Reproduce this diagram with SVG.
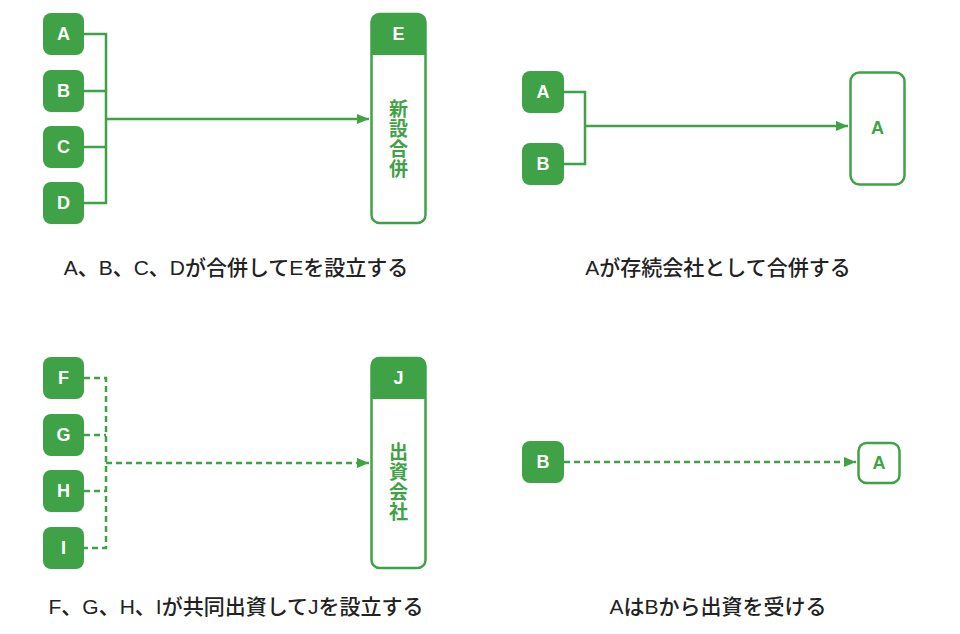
<svg xmlns="http://www.w3.org/2000/svg" width="960" height="634" viewBox="0 0 960 634">
<style>
.n{fill:#3fa246}
.o{fill:#fff;stroke:#3fa246;stroke-width:2.5}
.t{fill:#fff;font-family:"Liberation Sans",Arial,sans-serif;font-weight:bold;font-size:18px;text-anchor:middle;dominant-baseline:central}
.a{fill:#3fa246;font-family:"Liberation Sans",Arial,sans-serif;font-weight:bold;font-size:18px;text-anchor:middle;dominant-baseline:central}
.g{fill:#3fa246;font-family:"Noto Sans CJK JP",sans-serif;font-weight:bold;font-size:19px;text-anchor:middle;writing-mode:vertical-rl;letter-spacing:1px}
.l{stroke:#3fa246;stroke-width:2.5;fill:none}
.d{stroke-dasharray:6 4}
.c{fill:#222;font-family:"Liberation Sans","Noto Sans CJK JP",sans-serif;font-size:21px;font-weight:500;text-anchor:middle}
</style>
<defs><marker id="ar" markerWidth="12" markerHeight="10" refX="12" refY="5" orient="auto" markerUnits="userSpaceOnUse"><path d="M0,0L12,5L0,10z" fill="#3fa246"/></marker></defs>
<g id="connectors">
<path class="l" d="M84,34H106V203H84M84,91H106M84,147H106"/>
<path class="l" d="M106,119H369" marker-end="url(#ar)"/>
<path class="l d" d="M84,378H106V548H84M84,435H106M84,491H106"/>
<path class="l d" d="M106,463H369" marker-end="url(#ar)"/>
<path class="l" d="M564,92H585V164H564"/>
<path class="l" d="M585,126H848" marker-end="url(#ar)"/>
<path class="l d" d="M564,462H856" marker-end="url(#ar)"/>
</g>
<g id="nA"><rect class="n" x="43" y="13" width="41" height="42" rx="8"/><text class="t" x="63.5" y="34">A</text></g>
<g id="nB"><rect class="n" x="43" y="70" width="41" height="42" rx="8"/><text class="t" x="63.5" y="91">B</text></g>
<g id="nC"><rect class="n" x="43" y="126" width="41" height="42" rx="8"/><text class="t" x="63.5" y="147">C</text></g>
<g id="nD"><rect class="n" x="43" y="182" width="41" height="42" rx="8"/><text class="t" x="63.5" y="203">D</text></g>
<g id="nE"><rect class="o" x="371.5" y="14" width="54" height="209" rx="8"/><path class="n" d="M371,55V22a8,8 0 0 1 8,-8H418a8,8 0 0 1 8,8V55z"/><text class="t" x="398.5" y="34">E</text>
<text class="g" x="398.5" y="139">新設合併</text></g>
<g id="nF"><rect class="n" x="43" y="357" width="41" height="42" rx="8"/><text class="t" x="63.5" y="378">F</text></g>
<g id="nG"><rect class="n" x="43" y="414" width="41" height="42" rx="8"/><text class="t" x="63.5" y="435">G</text></g>
<g id="nH"><rect class="n" x="43" y="470" width="41" height="42" rx="8"/><text class="t" x="63.5" y="491">H</text></g>
<g id="nI"><rect class="n" x="43" y="527" width="41" height="42" rx="8"/><text class="t" x="63.5" y="548">I</text></g>
<g id="nJ"><rect class="o" x="371.5" y="358" width="54" height="210" rx="8"/><path class="n" d="M371,399V365a8,8 0 0 1 8,-8H418a8,8 0 0 1 8,8V399z"/><text class="t" x="398.5" y="378">J</text>
<text class="g" x="398.5" y="482">出資会社</text></g>
<g id="nA2"><rect class="n" x="522" y="71" width="42" height="42" rx="8"/><text class="t" x="543" y="92">A</text></g>
<g id="nB2"><rect class="n" x="522" y="143" width="42" height="42" rx="8"/><text class="t" x="543" y="164">B</text></g>
<g id="nA3"><rect class="o" x="850.5" y="72.5" width="54" height="112" rx="9"/><text class="a" x="877.5" y="128">A</text></g>
<g id="nB3"><rect class="n" x="522" y="441" width="42" height="42" rx="8"/><text class="t" x="543" y="462">B</text></g>
<g id="nA4"><rect class="o" x="858.5" y="443" width="41" height="40" rx="8"/><text class="a" x="879" y="463">A</text></g>
<text class="c" x="236" y="275">A、B、C、Dが合併してEを設立する</text>
<text class="c" x="718" y="275">Aが存続会社として合併する</text>
<text class="c" x="236" y="614">F、G、H、Iが共同出資してJを設立する</text>
<text class="c" x="718" y="614">AはBから出資を受ける</text>
</svg>
